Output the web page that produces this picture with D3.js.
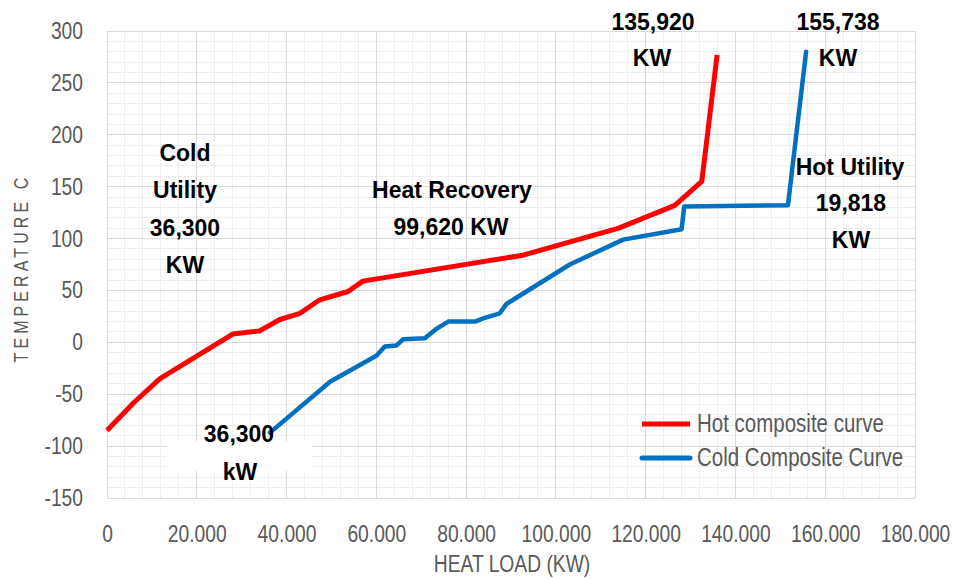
<!DOCTYPE html>
<html>
<head>
<meta charset="utf-8">
<script src="https://cdn.jsdelivr.net/npm/d3@7"></script>
<style>
  html, body { margin: 0; padding: 0; background: #fff; }
  svg { display: block; }
</style>
</head>
<body>
<svg id="chart" width="956" height="579"></svg>
<script>
// ---- data ----
const hotX  = [0, 6000, 11800, 28000, 34000, 38500, 43000, 47400, 53700, 57000, 92700, 114000, 126500, 132500, 135920];
const hotY  = [-85, -58, -35, 8, 11, 22, 28, 41, 49, 59, 84, 110, 132, 155, 277];
const coldX = [36300, 49700, 60000, 61900, 64500, 66000, 70800, 73400, 76000, 82000, 83800, 87500, 89000, 103100, 115000, 128000, 128600, 151700, 155738];
const coldY = [-87, -38, -13, -4, -3, 3, 4, 13, 20, 20, 23, 28, 37, 75, 99, 109, 131, 132, 280];
const seriesNames = ["Hot composite curve", "Cold Composite Curve"];
const xTicks = [0, 20000, 40000, 60000, 80000, 100000, 120000, 140000, 160000, 180000];
const xTickLabels = ["0", "20.000", "40.000", "60.000", "80.000", "100.000", "120.000", "140.000", "160.000", "180.000"];
const yTicks = [-150, -100, -50, 0, 50, 100, 150, 200, 250, 300];
const yTickLabels = ["-150", "-100", "-50", "0", "50", "100", "150", "200", "250", "300"];
const xTitle = "HEAT LOAD (KW)";
const yTitle = "TEMPERATURE C";

// ---- layout ----
const L = 107, R = 915, T = 31, B = 498;
const FONT = "'Liberation Sans', Arial, sans-serif";
const SX = 0.82; // horizontal condense factor (narrow look)
const GREY = "#595959";

const svg = d3.select("#chart");
const x = d3.scaleLinear().domain([0, 180000]).range([L, R]);
const y = d3.scaleLinear().domain([-150, 300]).range([B, T]);

// grid
const grid = svg.append("g");
const minorX = d3.range(0, 180001, 4000).filter(v => v % 20000 !== 0);
const minorY = d3.range(-150, 301, 10).filter(v => v % 50 !== 0);
grid.selectAll(".mx").data(minorX).join("line")
  .attr("x1", d => x(d)).attr("x2", d => x(d)).attr("y1", T).attr("y2", B)
  .attr("stroke", "#eeeeee").attr("stroke-width", 1).attr("shape-rendering", "crispEdges");
grid.selectAll(".my").data(minorY).join("line")
  .attr("x1", L).attr("x2", R).attr("y1", d => y(d)).attr("y2", d => y(d))
  .attr("stroke", "#eeeeee").attr("stroke-width", 1).attr("shape-rendering", "crispEdges");
grid.selectAll(".Mx").data(xTicks).join("line")
  .attr("x1", d => x(d)).attr("x2", d => x(d)).attr("y1", T).attr("y2", B)
  .attr("stroke", "#d9d9d9").attr("stroke-width", 1).attr("shape-rendering", "crispEdges");
grid.selectAll(".My").data(yTicks).join("line")
  .attr("x1", L).attr("x2", R).attr("y1", d => y(d)).attr("y2", d => y(d))
  .attr("stroke", "#d9d9d9").attr("stroke-width", 1).attr("shape-rendering", "crispEdges");

// axes
const xAxis = svg.append("g").attr("transform", `translate(0,${B})`)
  .call(d3.axisBottom(x).tickValues(xTicks).tickSize(0).tickPadding(27)
    .tickFormat((d, i) => xTickLabels[i]));
const yAxis = svg.append("g").attr("transform", `translate(${L},0)`)
  .call(d3.axisLeft(y).tickValues(yTicks).tickSize(0).tickPadding(24)
    .tickFormat((d, i) => yTickLabels[i]));
[xAxis, yAxis].forEach(a => {
  a.select(".domain").remove();
  a.selectAll("text").attr("fill", GREY).style("font-family", FONT).style("font-size", "23.5px");
});
xAxis.selectAll("text").attr("transform", `scale(${SX},1)`);
yAxis.selectAll("text").attr("x", -24 / SX).attr("transform", `scale(${SX},1)`);

// axis titles
svg.append("text").attr("transform", `translate(512,572) scale(${SX},1)`).attr("text-anchor", "middle")
  .attr("fill", GREY).style("font-family", FONT).style("font-size", "23.5px").text(xTitle);
svg.append("text").attr("transform", `translate(28,268) rotate(-90) scale(${SX},1)`).attr("text-anchor", "middle")
  .attr("fill", GREY).style("font-family", FONT).style("font-size", "19.5px")
  .style("letter-spacing", "5px").text(yTitle);

// white label box
svg.append("rect").attr("x", 167).attr("y", 441).attr("width", 145).attr("height", 30).attr("fill", "#fff");

// lines
const line = d3.line().x(d => x(d[0])).y(d => y(d[1]));
const hot = hotX.map((v, i) => [v, hotY[i]]);
const cold = coldX.map((v, i) => [v, coldY[i]]);
svg.append("path").datum(hot).attr("d", line).attr("fill", "none")
  .attr("stroke", "#ff0000").attr("stroke-width", 5).attr("stroke-linejoin", "round");
svg.append("path").datum(cold).attr("d", line).attr("fill", "none")
  .attr("stroke", "#0070c0").attr("stroke-width", 4.5).attr("stroke-linejoin", "round").attr("stroke-linecap", "round");

// annotations
const notes = [
  ["Cold", 185, 161], ["Utility", 185, 198], ["36,300", 185, 236], ["KW", 185, 273],
  ["Heat Recovery", 452, 198], ["99,620 KW", 451, 235],
  ["135,920", 653, 30], ["KW", 652, 66],
  ["155,738", 838, 30], ["KW", 838, 66],
  ["Hot Utility", 850, 175], ["19,818", 851, 211], ["KW", 851, 248],
  ["36,300", 239, 442], ["kW", 240, 480]
];
svg.append("g").selectAll("text").data(notes).join("text")
  .attr("x", d => d[1]).attr("y", d => d[2]).attr("text-anchor", "middle")
  .attr("fill", "#000").style("font-family", FONT).style("font-weight", "bold").style("font-size", "23px")
  .text(d => d[0]);

// legend
const leg = svg.append("g");
const legItems = [
  { name: seriesNames[0], color: "#ff0000", y: 424, x1: 642, x2: 690, w: 5, cap: "butt" },
  { name: seriesNames[1], color: "#0070c0", y: 458, x1: 642, x2: 690, w: 5, cap: "round" }
];
legItems.forEach(it => {
  leg.append("line").attr("x1", it.x1).attr("x2", it.x2).attr("y1", it.y).attr("y2", it.y)
    .attr("stroke", it.color).attr("stroke-width", it.w).attr("stroke-linecap", it.cap);
  leg.append("text").attr("transform", `translate(697,${it.y + 8}) scale(${SX},1)`).attr("fill", GREY)
    .style("font-family", FONT).style("font-size", "25px").text(it.name);
});
</script>
</body>
</html>
